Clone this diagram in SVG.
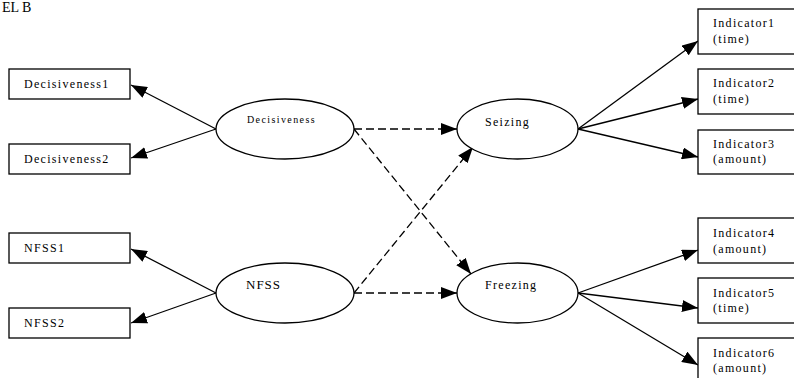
<svg xmlns="http://www.w3.org/2000/svg" width="794" height="378" viewBox="0 0 794 378">
<defs>
<marker id="ah" viewBox="0 0 16 12" refX="16" refY="6" markerWidth="16" markerHeight="12" markerUnits="userSpaceOnUse" orient="auto">
<path d="M0,0 L16,6 L0,12 Z" fill="#000"/>
</marker>
</defs>
<style>
.box{fill:#fff;stroke:#000;stroke-width:1.3}
.ell{fill:#fff;stroke:#000;stroke-width:1.3}
.t{font-family:"Liberation Serif","Times New Roman",serif;font-size:12px;letter-spacing:1.3px;fill:#000}
.s{stroke:#000;stroke-width:1.3;fill:none;marker-end:url(#ah)}
.d{stroke:#000;stroke-width:1.3;fill:none;stroke-dasharray:8 4;marker-end:url(#ah)}
</style>
<rect width="794" height="378" fill="#fff"/>
<text x="2" y="12" style="font-family:'Liberation Serif',serif;font-size:14px;fill:#000">EL B</text>
<g id="connectors">
<line class="s" x1="216" y1="129" x2="131" y2="85"/>
<line class="s" x1="216" y1="129" x2="131" y2="158"/>
<line class="s" x1="216" y1="293" x2="131" y2="249"/>
<line class="s" x1="216" y1="293" x2="131" y2="323"/>
<line class="d" x1="354" y1="129" x2="457" y2="129"/>
<line class="d" x1="354" y1="129" x2="471" y2="274"/>
<line class="d" x1="354" y1="293" x2="473" y2="147"/>
<line class="d" x1="354" y1="293" x2="457" y2="293"/>
<line class="s" x1="578" y1="129" x2="698" y2="41"/>
<line class="s" x1="578" y1="129" x2="698" y2="99"/>
<line class="s" x1="578" y1="129" x2="698" y2="157"/>
<line class="s" x1="578" y1="293" x2="698" y2="250"/>
<line class="s" x1="578" y1="293" x2="698" y2="308"/>
<line class="s" x1="578" y1="293" x2="698" y2="365"/>
</g>
<g id="decisiveness1"><rect class="box" x="9" y="69" width="121" height="30"/><text class="t" x="24" y="88">Decisiveness1</text></g>
<g id="decisiveness2"><rect class="box" x="9" y="144" width="121" height="30"/><text class="t" x="24" y="163">Decisiveness2</text></g>
<g id="nfss1"><rect class="box" x="9" y="233" width="121" height="30"/><text class="t" x="24" y="252">NFSS1</text></g>
<g id="nfss2"><rect class="box" x="9" y="308" width="121" height="30"/><text class="t" x="24" y="327">NFSS2</text></g>
<g id="decisiveness"><ellipse class="ell" cx="285" cy="129" rx="69" ry="30"/><text class="t" x="247" y="123" style="font-size:10px;letter-spacing:1.4px">Decisiveness</text></g>
<g id="nfss"><ellipse class="ell" cx="285" cy="293" rx="69" ry="30"/><text class="t" x="246" y="289" style="font-size:13px;letter-spacing:1px">NFSS</text></g>
<g id="seizing"><ellipse class="ell" cx="517.5" cy="129" rx="60.5" ry="30"/><text class="t" x="485" y="126">Seizing</text></g>
<g id="freezing"><ellipse class="ell" cx="517.5" cy="293" rx="60.5" ry="30"/><text class="t" x="485" y="289">Freezing</text></g>
<g id="indicator1"><rect class="box" x="698" y="9" width="100" height="45"/><text class="t" x="713" y="27">Indicator1</text><text class="t" x="713" y="43">(time)</text></g>
<g id="indicator2"><rect class="box" x="698" y="69" width="100" height="45"/><text class="t" x="713" y="87">Indicator2</text><text class="t" x="713" y="103">(time)</text></g>
<g id="indicator3"><rect class="box" x="698" y="130" width="100" height="44"/><text class="t" x="713" y="148">Indicator3</text><text class="t" x="713" y="163">(amount)</text></g>
<g id="indicator4"><rect class="box" x="698" y="218" width="100" height="45"/><text class="t" x="713" y="237">Indicator4</text><text class="t" x="713" y="253">(amount)</text></g>
<g id="indicator5"><rect class="box" x="698" y="278" width="100" height="45"/><text class="t" x="713" y="297">Indicator5</text><text class="t" x="713" y="312">(time)</text></g>
<g id="indicator6"><rect class="box" x="698" y="338" width="100" height="45"/><text class="t" x="713" y="357">Indicator6</text><text class="t" x="713" y="372">(amount)</text></g>
</svg>
